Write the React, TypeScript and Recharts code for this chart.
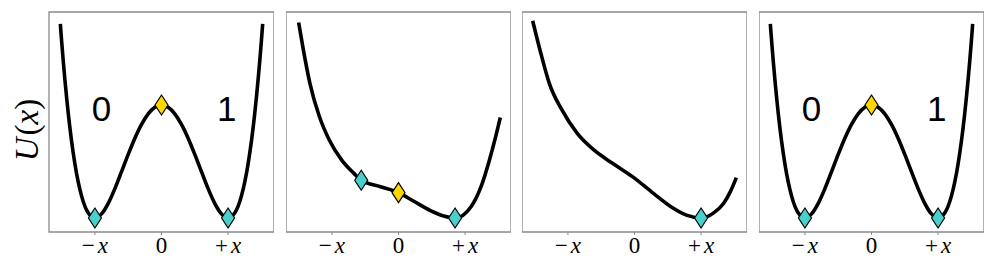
import React from 'react';
import {
  ComposedChart,
  Line,
  Scatter,
  XAxis,
  YAxis,
  ReferenceArea,
  ReferenceDot,
} from 'recharts';

// symmetric double well (panels 1 and 4)
const wellX = [-1.52, -1.5, -1.4, -1.3, -1.2, -1.1, -1.0, -0.9, -0.8, -0.7, -0.6, -0.5, -0.4, -0.3, -0.2, -0.1, 0, 0.1, 0.2, 0.3, 0.4, 0.5, 0.6, 0.7, 0.8, 0.9, 1.0, 1.1, 1.2, 1.3, 1.4, 1.5, 1.52];
const wellU = [1.717, 1.5625, 0.9216, 0.4761, 0.1936, 0.0441, 0, 0.0361, 0.1296, 0.2601, 0.4096, 0.5625, 0.7056, 0.8281, 0.9216, 0.9801, 1, 0.9801, 0.9216, 0.8281, 0.7056, 0.5625, 0.4096, 0.2601, 0.1296, 0.0361, 0, 0.0441, 0.1936, 0.4761, 0.9216, 1.5625, 1.717];

// tilted well (panel 2)
const tiltX = [-1.5, -1.43, -1.33, -1.19, -1.04, -0.85, -0.67, -0.56, -0.27, 0, 0.23, 0.48, 0.68, 0.85, 1.09, 1.24, 1.36, 1.46, 1.53];
const tiltU = [1.73, 1.49, 1.19, 0.9, 0.69, 0.51, 0.395, 0.334, 0.277, 0.224, 0.148, 0.066, 0.018, 0, 0.1, 0.277, 0.5, 0.72, 0.89];

// single well (panel 3)
const singleX = [-1.53, -1.42, -1.28, -1.09, -0.86, -0.61, -0.33, -0.03, 0.28, 0.56, 0.78, 1.0, 1.19, 1.34, 1.44, 1.53];
const singleU = [1.746, 1.487, 1.192, 0.956, 0.749, 0.602, 0.484, 0.366, 0.22, 0.095, 0.025, 0, 0.045, 0.13, 0.233, 0.357];

// marker positions
const wellStableX = [-1, 1];
const wellStableU = [0, 0];
const wellSaddleX = [0];
const wellSaddleU = [1];
const tiltStableX = [-0.56, 0.85];
const tiltStableU = [0.334, 0];
const tiltSaddleX = [0];
const tiltSaddleU = [0.224];
const singleStableX = [1.0];
const singleStableU = [0];

const tickValues = [-1, 0, 1];
const tickLabels = ['\u2212x', '0', '+x'];
const stateLabels = [
  { x: -0.9, y: 0.97, text: '0' },
  { x: 0.98, y: 0.97, text: '1' },
];

const pts = (xs: number[], ys: number[]) => xs.map((x, i) => ({ x, y: ys[i] }));

const X_DOM: [number, number] = [-1.69, 1.69];
const Y_DOM: [number, number] = [-0.124, 1.823];
const CYAN = '#48D1CC';
const GOLD = '#FFD700';
const FRAME = '#8a8a8a';

const diamond = (fill: string) => (props: any) => {
  const { cx, cy } = props;
  const w = 6.5;
  const h = 10;
  return (
    <polygon
      points={`${cx},${cy - h} ${cx + w},${cy} ${cx},${cy + h} ${cx - w},${cy}`}
      fill={fill}
      stroke="#000"
      strokeWidth={1.2}
    />
  );
};

const XTick = (props: any) => {
  const { x, y, payload } = props;
  const label = tickLabels[tickValues.indexOf(payload.value)];
  const sign = label.length > 1 ? label[0] : null;
  return (
    <text x={x} y={y + 16} textAnchor="middle" fontFamily="Liberation Serif" fontSize={23} fill="#000">
      {sign ? (
        <>
          <tspan>{sign}</tspan>
          <tspan dx={3} fontStyle="italic">x</tspan>
        </>
      ) : (
        label
      )}
    </text>
  );
};

const YLabel = (props: any) => {
  const { viewBox } = props;
  const cy = viewBox.y + 118;
  const cx = 27;
  return (
    <text
      x={cx}
      y={cy}
      transform={`rotate(-90, ${cx}, ${cy})`}
      textAnchor="middle"
      dominantBaseline="central"
      fontFamily="Liberation Serif"
      fontSize={33}
      fill="#000"
    >
      <tspan fontStyle="italic">U</tspan>
      <tspan dx={2}>(</tspan>
      <tspan fontStyle="italic">x</tspan>
      <tspan>)</tspan>
    </text>
  );
};

const stateText = (text: string) => (props: any) => (
  <text
    x={props.cx}
    y={props.cy}
    textAnchor="middle"
    dominantBaseline="central"
    fontFamily="Liberation Sans"
    fontSize={35}
    fill="#000"
  >
    {text}
  </text>
);

interface PanelProps {
  left: number;
  curve: { x: number; y: number }[];
  stable: { x: number; y: number }[];
  saddle: { x: number; y: number }[];
  showStates?: boolean;
  showYLabel?: boolean;
}

function Panel({ left, curve, stable, saddle, showStates, showYLabel }: PanelProps) {
  const yWidth = showYLabel ? left : 0;
  return (
    <div style={{ position: 'absolute', left: left - yWidth, top: 0 }}>
      <ComposedChart width={225 + yWidth} height={274} margin={{ top: 12, right: 0, bottom: 0, left: 0 }}>
        <XAxis
          type="number"
          dataKey="x"
          domain={X_DOM}
          ticks={tickValues}
          allowDataOverflow
          height={42}
          axisLine={false}
          tickLine={{ stroke: FRAME }}
          tickSize={3}
          tick={<XTick />}
          interval={0}
        />
        <YAxis
          type="number"
          domain={Y_DOM}
          allowDataOverflow
          width={yWidth}
          hide={!showYLabel}
          axisLine={false}
          tickLine={false}
          tick={false}
          label={showYLabel ? { content: <YLabel /> } : undefined}
        />
        <ReferenceArea x1={X_DOM[0]} x2={X_DOM[1]} y1={Y_DOM[0]} y2={Y_DOM[1]} fill="none" stroke={FRAME} strokeWidth={1.3} />
        <Line data={curve} dataKey="y" type="monotone" stroke="#000" strokeWidth={3.6} dot={false} isAnimationActive={false} />
        {stable.length > 0 && (
          <Scatter data={stable} dataKey="y" shape={diamond(CYAN)} isAnimationActive={false} />
        )}
        {saddle.length > 0 && (
          <Scatter data={saddle} dataKey="y" shape={diamond(GOLD)} isAnimationActive={false} />
        )}
        {showStates &&
          stateLabels.map((s) => (
            <ReferenceDot key={s.text} x={s.x} y={s.y} r={0} shape={stateText(s.text)} />
          ))}
      </ComposedChart>
    </div>
  );
}

export default function App() {
  return (
    <div style={{ position: 'absolute', left: 0, top: 0, width: 996, height: 274, background: '#fff' }}>
      <Panel left={49} curve={pts(wellX, wellU)} stable={pts(wellStableX, wellStableU)} saddle={pts(wellSaddleX, wellSaddleU)} showStates showYLabel />
      <Panel left={286} curve={pts(tiltX, tiltU)} stable={pts(tiltStableX, tiltStableU)} saddle={pts(tiltSaddleX, tiltSaddleU)} />
      <Panel left={522} curve={pts(singleX, singleU)} stable={pts(singleStableX, singleStableU)} saddle={[]} />
      <Panel left={759} curve={pts(wellX, wellU)} stable={pts(wellStableX, wellStableU)} saddle={pts(wellSaddleX, wellSaddleU)} showStates />
    </div>
  );
}
